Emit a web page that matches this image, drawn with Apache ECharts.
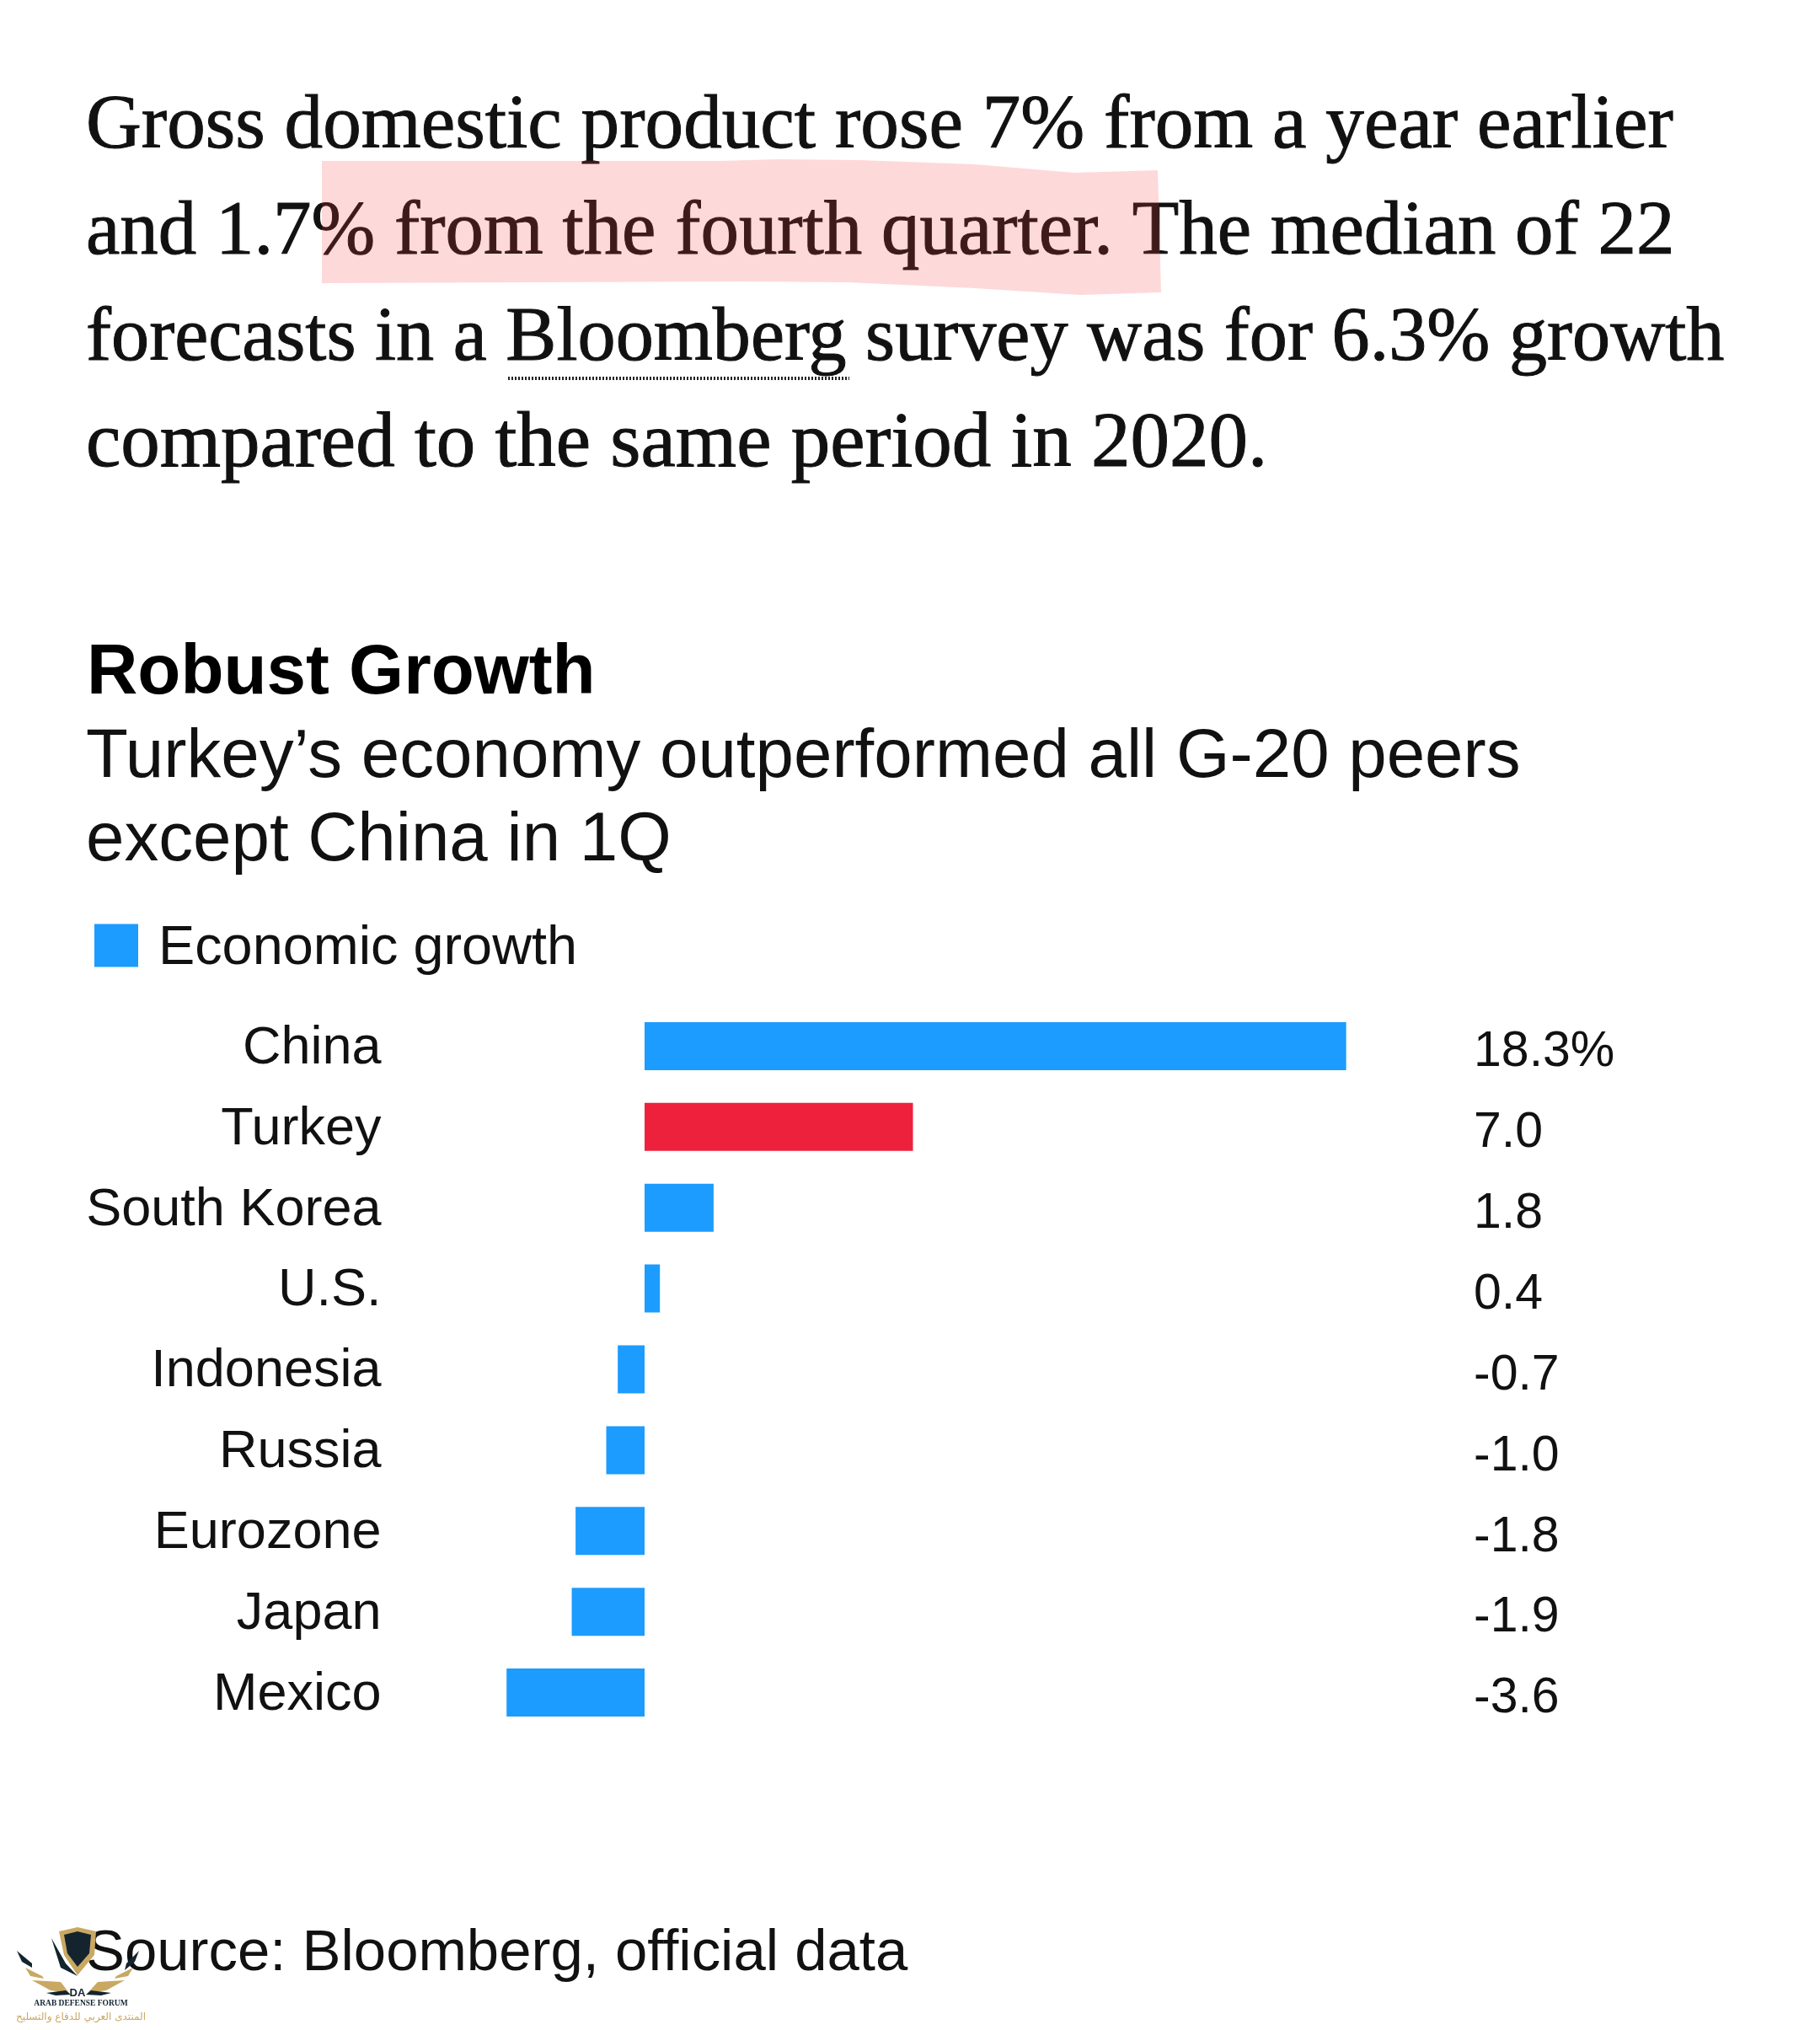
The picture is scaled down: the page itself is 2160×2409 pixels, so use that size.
<!DOCTYPE html>
<html lang="en">
<head>
<meta charset="utf-8">
<style>
    html, body { margin: 0; padding: 0; background: #ffffff; }
    #chart { width: 2160px; height: 2409px; }
</style>
</head>
<body>
<div id="chart"></div>
<script src="https://cdn.jsdelivr.net/npm/echarts@6/dist/echarts.min.js"></script>
<script type="text/javascript">
    var categories = ['China', 'Turkey', 'South Korea', 'U.S.', 'Indonesia', 'Russia', 'Eurozone', 'Japan', 'Mexico'];
    var growth = [18.3, 7.0, 1.8, 0.4, -0.7, -1.0, -1.8, -1.9, -3.6];
    var valueLabels = ['18.3%', '7.0', '1.8', '0.4', '-0.7', '-1.0', '-1.8', '-1.9', '-3.6'];
    var highlighted = 'Turkey';
    var seriesName = 'Economic growth';

    var paragraph = [
        'Gross domestic product rose 7% from a year earlier',
        'and 1.7% from the fourth quarter. The median of 22',
        'forecasts in a Bloomberg survey was for 6.3% growth',
        'compared to the same period in 2020.'
    ];
    var title = 'Robust Growth';
    var subtitle = ['Turkey\u2019s economy outperformed all G-20 peers', 'except China in 1Q'];
    var source = 'Source: Bloomberg, official data';

    var BLUE = '#1c9cfe';
    var RED = '#ee213d';
    var GOLD = '#c9a862';
    var NAVY = '#13242f';
    var SANS = '"Liberation Sans", Arial, sans-serif';
    var SERIF = '"Liberation Serif", Georgia, serif';

    function textEl(x, y, text, size, font, extra) {
        var style = { x: x, y: y, text: text, fill: '#111111', fontSize: size, fontFamily: font, verticalAlign: 'middle', align: 'left' };
        for (var k in (extra || {})) style[k] = extra[k];
        return { type: 'text', silent: true, z: 5, style: style };
    }

    function poly(points, fill, z) {
        return { type: 'polygon', silent: true, z: z || 6, shape: { points: points }, style: { fill: fill } };
    }

    var graphics = [];

    // article text above the chart, sizes nudged per line to keep the line ends
    var paraY = [151, 277, 403, 529];
    var paraSize = [91.2, 90.9, 90.2, 93];
    paragraph.forEach(function (line, i) {
        graphics.push(textEl(102, paraY[i], line, paraSize[i], SERIF, { stroke: '#111111', lineWidth: 1 }));
    });

    // hand drawn highlighter over the second line
    graphics.push({
        type: 'polygon', silent: true, z: 7,
        shape: { points: [[382, 191], [854, 191], [923, 189], [1020, 190], [1157, 195], [1275, 205], [1374, 202],
            [1378, 347], [1282, 350], [1157, 342], [1006, 335], [882, 334], [382, 336]] },
        style: { fill: 'rgba(250,65,65,0.2)' }
    });

    // dotted link underline below Bloomberg
    graphics.push({
        type: 'line', silent: true, z: 5,
        shape: { x1: 603, y1: 449, x2: 1008, y2: 449 },
        style: { stroke: '#222222', lineWidth: 4, lineDash: [2, 2] }
    });

    graphics.push(textEl(103, 800, title, 83.6, SANS, { fontWeight: 'bold', fill: '#000000' }));
    graphics.push(textEl(102, 899, subtitle[0], 81.7, SANS));
    graphics.push(textEl(102, 998, subtitle[1], 81.7, SANS));
    graphics.push(textEl(102, 2319, source, 68.9, SANS));

    // forum watermark, bottom left
    graphics.push(poly([[70, 2292], [92, 2287], [114, 2292], [112, 2320], [92, 2344], [76, 2320]], GOLD));
    graphics.push(poly([[76, 2296], [92, 2292], [108, 2296], [106, 2318], [92, 2334], [80, 2318]], NAVY));
    graphics.push(poly([[61, 2300], [78, 2330], [92, 2345], [72, 2335]], NAVY));
    graphics.push(poly([[20, 2315], [38, 2330], [38, 2335], [26, 2328]], NAVY));
    graphics.push(poly([[165, 2315], [150, 2330], [148, 2338], [160, 2328]], NAVY));
    graphics.push(poly([[30, 2335], [50, 2345], [52, 2348], [36, 2345]], GOLD));
    graphics.push(poly([[158, 2335], [138, 2345], [136, 2348], [152, 2345]], GOLD));
    graphics.push(poly([[38, 2350], [72, 2352], [82, 2365], [60, 2362]], GOLD));
    graphics.push(poly([[148, 2350], [116, 2352], [104, 2365], [126, 2362]], GOLD));
    graphics.push(poly([[55, 2365], [78, 2362], [84, 2367], [66, 2368]], NAVY));
    graphics.push(poly([[132, 2365], [108, 2362], [102, 2367], [120, 2368]], NAVY));
    graphics.push(textEl(92, 2365, 'DA', 13, SANS, { align: 'center', fontWeight: 'bold', fill: NAVY, z: 6 }));
    graphics.push(textEl(96, 2378, 'ARAB DEFENSE FORUM', 9.5, '"Liberation Serif", serif', { align: 'center', fontWeight: 'bold', fill: NAVY }));
    graphics.push(textEl(96, 2394, '\u0627\u0644\u0645\u0646\u062a\u062f\u0649 \u0627\u0644\u0639\u0631\u0628\u064a \u0644\u0644\u062f\u0641\u0627\u0639 \u0648\u0627\u0644\u062a\u0633\u0644\u064a\u062d', 12, '"DejaVu Sans", sans-serif', { align: 'center', fill: GOLD }));

    // rich labels: axis and legend padding only shifts text vertically inside a rich block
    function shifted(text) {
        return '{t|' + text + '}';
    }

    var chart = echarts.init(document.getElementById('chart'));
    chart.setOption({
        animation: false,
        backgroundColor: '#ffffff',
        textStyle: { fontFamily: SANS },
        legend: {
            left: 112,
            top: 1094,
            padding: 0,
            itemWidth: 52,
            itemHeight: 51,
            icon: 'rect',
            data: [seriesName],
            formatter: shifted,
            textStyle: {
                rich: { t: { fontSize: 64.8, color: '#111111', fontFamily: SANS, padding: [9, 0, 0, 19] } }
            }
        },
        grid: { left: 537.5, top: 1193.5, width: 1137.5, height: 863 },
        xAxis: {
            type: 'value',
            min: -5,
            max: 20,
            interval: 5,
            show: false
        },
        yAxis: [
            {
                type: 'category',
                inverse: true,
                data: categories,
                axisLine: { show: false },
                axisTick: { show: false },
                splitLine: { show: false },
                axisLabel: {
                    margin: 85,
                    align: 'right',
                    formatter: shifted,
                    rich: { t: { fontSize: 63, color: '#111111', fontFamily: SANS, padding: [6, 0, 0, 0] } }
                }
            },
            {
                type: 'category',
                inverse: true,
                position: 'right',
                data: valueLabels,
                axisLine: { show: false },
                axisTick: { show: false },
                splitLine: { show: false },
                axisLabel: {
                    margin: 74,
                    align: 'left',
                    formatter: shifted,
                    rich: { t: { fontSize: 59, color: '#111111', fontFamily: SANS, padding: [15, 0, 0, 0] } }
                }
            }
        ],
        series: [
            {
                name: seriesName,
                type: 'bar',
                yAxisIndex: 0,
                barWidth: 57,
                itemStyle: { color: BLUE },
                data: growth.map(function (v, i) {
                    return categories[i] === highlighted ? { value: v, itemStyle: { color: RED } } : v;
                })
            }
        ],
        graphic: { elements: graphics }
    });
</script>
</body>
</html>
